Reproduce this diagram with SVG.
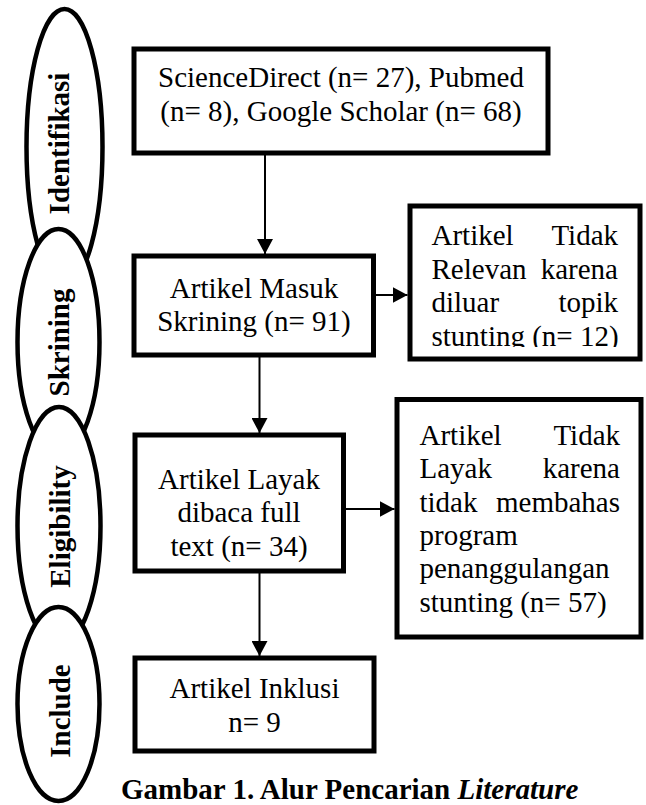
<svg xmlns="http://www.w3.org/2000/svg" width="646" height="805" viewBox="0 0 646 805">
<style>
.bg{fill:#fff}
.box{fill:#fff;stroke:#000;stroke-width:5}
.ell{fill:#fff;stroke:#000;stroke-width:4.5}
.t{font-family:"Liberation Serif","Times New Roman",serif;font-size:29px;fill:#000}
.c{text-anchor:middle}
.e{text-anchor:end}
.lab{font-family:"Liberation Serif","Times New Roman",serif;font-size:29px;font-weight:bold;fill:#000;text-anchor:middle}
.con{stroke:#000;stroke-width:2;fill:none}
</style>
<defs>
<marker id="ah" markerUnits="userSpaceOnUse" markerWidth="15" markerHeight="16" refX="15" refY="8" orient="auto">
<path d="M0,0 L15,8 L0,16 Z" fill="#000"/>
</marker>
<clipPath id="clip3"><rect x="412" y="208" width="226" height="139"/></clipPath>
</defs>
<rect class="bg" x="0" y="0" width="646" height="805"/>

<g id="phase-identifikasi">
<ellipse class="ell" cx="64.5" cy="147" rx="38" ry="138"/>
<text class="lab" transform="translate(69,143.5) rotate(-90)">Identifikasi</text>
</g>
<g id="phase-skrining">
<ellipse class="ell" cx="58.5" cy="342" rx="41" ry="113"/>
<text class="lab" transform="translate(69,342.5) rotate(-90)">Skrining</text>
</g>
<g id="phase-eligibility">
<ellipse class="ell" cx="59" cy="526" rx="41.5" ry="119"/>
<text class="lab" transform="translate(69.5,526.5) rotate(-90)">Eligibility</text>
</g>
<g id="phase-include">
<ellipse class="ell" cx="58.5" cy="704" rx="41" ry="97"/>
<text class="lab" transform="translate(69.5,711) rotate(-90)">Include</text>
</g>

<g id="connectors">
<path class="con" d="M265,153 L265,254" marker-end="url(#ah)"/>
<path class="con" d="M259.5,355 L259.5,433" marker-end="url(#ah)"/>
<path class="con" d="M259.5,571 L259.5,656" marker-end="url(#ah)"/>
<path class="con" d="M373.5,295 L407.5,295" marker-end="url(#ah)"/>
<path class="con" d="M343.5,509 L394.5,509" marker-end="url(#ah)"/>
</g>

<g id="node-sources">
<rect class="box" x="134" y="49" width="414" height="104"/>
<text class="t c" x="341" y="86.5">ScienceDirect (n= 27), Pubmed</text>
<text class="t c" x="341" y="120.5">(n= 8), Google Scholar (n= 68)</text>
</g>

<g id="node-skrining">
<rect class="box" x="134" y="256" width="239.5" height="99"/>
<text class="t c" x="254" y="297.5">Artikel Masuk</text>
<text class="t c" x="254" y="330.5">Skrining (n= 91)</text>
</g>

<g id="node-excluded-1">
<rect class="box" x="410" y="206" width="230" height="153"/>
<g clip-path="url(#clip3)">
<text class="t" x="431.5" y="245">Artikel</text>
<text class="t e" x="618" y="245">Tidak</text>
<text class="t" x="431.5" y="278.5">Relevan</text>
<text class="t e" x="618" y="278.5">karena</text>
<text class="t" x="431.5" y="312">diluar</text>
<text class="t e" x="618" y="312">topik</text>
<text class="t" x="431.5" y="345.5">stunting (n= 12)</text>
</g>
</g>

<g id="node-eligible">
<rect class="box" x="135" y="435" width="208.5" height="136"/>
<text class="t c" x="239" y="489">Artikel Layak</text>
<text class="t c" x="239" y="522.3">dibaca full</text>
<text class="t c" x="239" y="555.7">text (n= 34)</text>
</g>

<g id="node-excluded-2">
<rect class="box" x="397" y="399.5" width="244" height="237.5"/>
<text class="t" x="419.5" y="445">Artikel</text>
<text class="t e" x="620" y="445">Tidak</text>
<text class="t" x="419.5" y="478.3">Layak</text>
<text class="t e" x="620" y="478.3">karena</text>
<text class="t" x="419.5" y="511.7">tidak</text>
<text class="t e" x="620" y="511.7">membahas</text>
<text class="t" x="419.5" y="545">program</text>
<text class="t" x="419.5" y="578.3">penanggulangan</text>
<text class="t" x="419.5" y="611.7">stunting (n= 57)</text>
</g>

<g id="node-included">
<rect class="box" x="135" y="658" width="239" height="93"/>
<text class="t c" x="254.5" y="698.3">Artikel Inklusi</text>
<text class="t c" x="254.5" y="731.7">n= 9</text>
</g>

<text class="t" x="121" y="799" font-weight="bold">Gambar 1. Alur Pencarian <tspan font-style="italic">Literature</tspan></text>
</svg>
